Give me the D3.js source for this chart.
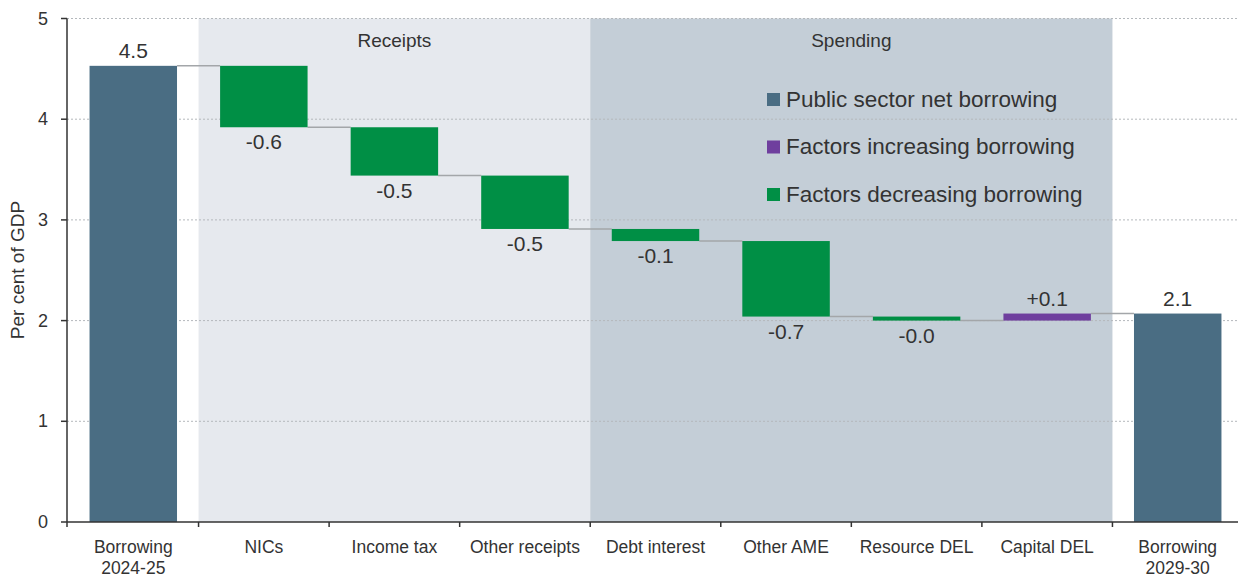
<!DOCTYPE html>
<html>
<head>
<meta charset="utf-8">
<script src="https://cdn.jsdelivr.net/npm/d3@7"></script>
<style>
  body { margin: 0; background: #fff; }
  text { font-family: "Liberation Sans", Arial, sans-serif; fill: #333; }
</style>
</head>
<body>
<svg id="grafico"></svg>
<script>
"use strict"

const categorias = ['Borrowing\n2024-25', 'NICs', 'Income tax', 'Other receipts', 'Debt interest',
                    'Other AME', 'Resource DEL', 'Capital DEL', 'Borrowing\n2029-30'];
const valores = [4.53, -0.61, -0.48, -0.53, -0.12, -0.75, -0.04, 0.07, 2.07];
const tipos = ['total', 'delta', 'delta', 'delta', 'delta', 'delta', 'delta', 'delta', 'total'];
const rotulos = ['4.5', '-0.6', '-0.5', '-0.5', '-0.1', '-0.7', '-0.0', '+0.1', '2.1'];
const grupos = [null, 'Receipts', 'Receipts', 'Receipts', 'Spending', 'Spending', 'Spending', 'Spending', null];
const legenda = ['Public sector net borrowing', 'Factors increasing borrowing', 'Factors decreasing borrowing'];
const ticksY = [0, 1, 2, 3, 4, 5];

function iniciar(){
  const largura = 1238, altura = 578;
  const cores = { total: '#4a6d83', sobe: '#6f3f9e', desce: '#008f45' };
  const fundo = { Receipts: '#e6e9ee', Spending: '#c4ced7' };

  const svg = d3.select('#grafico').attr('width', largura).attr('height', altura);

  const x = d3.scaleBand()
              .domain(categorias)
              .range([68, 1243])
              .paddingInner(0.33)
              .paddingOuter(0.165);
  const y = d3.scaleLinear().domain([0, 5]).range([522, 18.5]);
  const passo = x.step();
  const inicioSlot = c => x(c) - passo * 0.165;

  // niveis do waterfall
  let nivel = 0;
  const dados = categorias.map((c, i) => {
    let de, ate;
    if (tipos[i] === 'total') { de = 0; ate = valores[i]; }
    else { de = nivel; ate = nivel + valores[i]; }
    nivel = ate;
    return { nome: c, valor: valores[i], tipo: tipos[i], de, ate, rotulo: rotulos[i] };
  });

  // faixas de fundo
  const nomesGrupo = Array.from(new Set(grupos.filter(g => g)));
  nomesGrupo.forEach(g => {
    const idx = grupos.map((v, i) => v === g ? i : -1).filter(i => i >= 0);
    const x0 = inicioSlot(categorias[idx[0]]);
    const x1 = inicioSlot(categorias[idx[idx.length - 1]]) + passo;
    svg.append('rect')
      .attr('x', x0).attr('y', y(5))
      .attr('width', x1 - x0).attr('height', y(0) - y(5))
      .attr('fill', fundo[g]);
    svg.append('text')
      .attr('x', (x0 + x1) / 2).attr('y', 47)
      .attr('text-anchor', 'middle')
      .style('font-size', '19px')
      .text(g);
  });

  // grade
  svg.selectAll('.grade')
    .data(ticksY.filter(t => t > 0))
    .enter()
      .append('line')
      .attr('x1', 67).attr('x2', largura)
      .attr('y1', d => y(d)).attr('y2', d => y(d))
      .attr('stroke', '#b4b8bc')
      .attr('stroke-width', 1)
      .attr('stroke-dasharray', '2,2');

  // conectores
  svg.selectAll('.conector')
    .data(dados.slice(0, -1))
    .enter()
      .append('line')
      .attr('x1', d => x(d.nome) + x.bandwidth())
      .attr('x2', (d, i) => x(dados[i + 1].nome))
      .attr('y1', d => y(d.ate)).attr('y2', d => y(d.ate))
      .attr('stroke', '#a3a6a9')
      .attr('stroke-width', 1.5);

  // barras
  svg.selectAll('.barra')
    .data(dados)
    .enter()
      .append('rect')
      .attr('x', d => x(d.nome))
      .attr('y', d => y(Math.max(d.de, d.ate)))
      .attr('width', x.bandwidth())
      .attr('height', d => Math.abs(y(d.de) - y(d.ate)))
      .attr('fill', d => d.tipo === 'total' ? cores.total : (d.valor > 0 ? cores.sobe : cores.desce));

  // rotulos de valor
  svg.selectAll('.rotulo')
    .data(dados)
    .enter()
      .append('text')
      .attr('x', d => x(d.nome) + x.bandwidth() / 2)
      .attr('y', d => d.valor >= 0 ? y(Math.max(d.de, d.ate)) - 8 : y(Math.min(d.de, d.ate)) + 22)
      .attr('text-anchor', 'middle')
      .style('font-size', '21px')
      .text(d => d.rotulo);

  // eixo Y
  svg.append('line')
    .attr('x1', 67).attr('x2', 67).attr('y1', y(5)).attr('y2', y(0) + 5)
    .attr('stroke', '#333').attr('stroke-width', 1.5);
  const gy = svg.selectAll('.tickY').data(ticksY).enter().append('g');
  gy.append('line')
    .attr('x1', 61).attr('x2', 67)
    .attr('y1', d => y(d)).attr('y2', d => y(d))
    .attr('stroke', '#333').attr('stroke-width', 1.5);
  gy.append('text')
    .attr('x', 48).attr('y', d => y(d) + 6)
    .attr('text-anchor', 'end')
    .style('font-size', '18px')
    .text(d => d);
  svg.append('text')
    .attr('transform', 'translate(24, 270) rotate(-90)')
    .attr('text-anchor', 'middle')
    .style('font-size', '19px')
    .text('Per cent of GDP');

  // eixo X
  svg.append('line')
    .attr('x1', 67).attr('x2', largura).attr('y1', y(0)).attr('y2', y(0))
    .attr('stroke', '#333').attr('stroke-width', 1.5);
  svg.selectAll('.tickX')
    .data(categorias.slice(1))
    .enter()
      .append('line')
      .attr('x1', d => inicioSlot(d)).attr('x2', d => inicioSlot(d))
      .attr('y1', y(0)).attr('y2', y(0) + 5)
      .attr('stroke', '#333').attr('stroke-width', 1.5);
  const rx = svg.selectAll('.rotuloX')
    .data(categorias)
    .enter()
      .append('text')
      .attr('text-anchor', 'middle')
      .style('font-size', '17.5px');
  rx.selectAll('tspan')
    .data(d => d.split('\n').map(l => ({ l, c: d })))
    .enter()
      .append('tspan')
      .attr('x', d => x(d.c) + x.bandwidth() / 2)
      .attr('y', (d, i) => 553 + i * 21)
      .text(d => d.l);

  // legenda
  const corLegenda = [cores.total, cores.sobe, cores.desce];
  const gl = svg.selectAll('.legenda')
    .data(legenda)
    .enter()
      .append('g')
      .attr('transform', (d, i) => `translate(767, ${106.5 + i * 47.5})`);
  gl.append('rect')
    .attr('x', 0).attr('y', -13.5)
    .attr('width', 13).attr('height', 13)
    .attr('fill', (d, i) => corLegenda[i]);
  gl.append('text')
    .attr('x', 19).attr('y', 0)
    .style('font-size', '22.5px')
    .text(d => d);
}

window.addEventListener('load', iniciar, false);
</script>
</body>
</html>
